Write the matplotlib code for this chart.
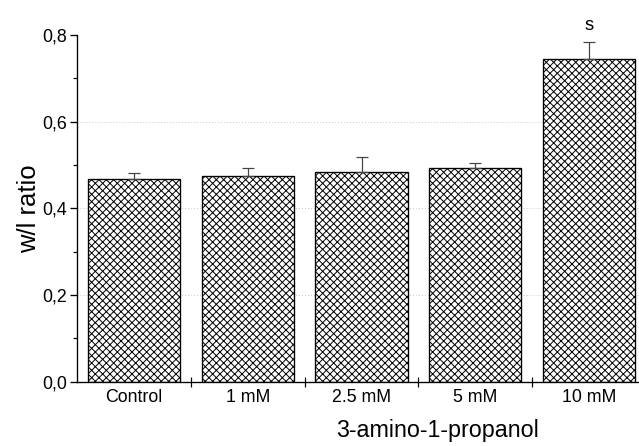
import matplotlib
matplotlib.use("Agg")
import matplotlib.pyplot as plt
from matplotlib.ticker import FixedLocator, MultipleLocator

categories = ["Control", "1 mM", "2.5 mM", "5 mM", "10 mM"]
values = [0.468, 0.475, 0.485, 0.494, 0.744]
errors = [0.013, 0.017, 0.033, 0.010, 0.039]
sig_labels = ["", "", "", "", "s"]
ytick_values = [0.0, 0.2, 0.4, 0.6, 0.8]
ytick_labels = ["0,0", "0,2", "0,4", "0,6", "0,8"]
grid_levels = [0.2, 0.4, 0.6]
xlabel = "3-amino-1-propanol"
ylabel = "w/l ratio"

DPI = 88
plt.rcParams['font.family'] = ['Liberation Sans', 'DejaVu Sans']
plt.rcParams['hatch.linewidth'] = 0.8

fig = plt.figure(figsize=(639 / DPI, 446 / DPI), dpi=DPI)
ax = fig.add_axes([77 / 639, 64.3 / 446, (646 - 77) / 639, (411 - 64.3) / 446])

x = list(range(len(categories)))
for g in grid_levels:
    ax.axhline(g, color="#b8b8b8", linestyle=(0, (1, 2.5)), linewidth=0.7, zorder=0)

ax.bar(x, values, width=0.81, color="white", edgecolor="black", hatch="xxxx",
       linewidth=1.1, zorder=2)
ax.errorbar(x, values, yerr=[[0] * len(errors), errors], fmt="none",
            ecolor="#444444", elinewidth=1.0, capsize=5.3, capthick=1.0, zorder=3)

for xi, v, e, s in zip(x, values, errors, sig_labels):
    if s:
        ax.annotate(s, (xi, v + e), xytext=(0, 7), textcoords="offset points",
                    ha="center", va="bottom", fontsize=15)

ax.set_xlim(-0.5, len(categories) - 0.5)
ax.set_ylim(0, 0.8)

ax.spines["top"].set_visible(False)
ax.spines["right"].set_visible(False)
ax.spines["left"].set_linewidth(1.1)
ax.spines["bottom"].set_linewidth(1.1)

ax.yaxis.set_major_locator(FixedLocator(ytick_values))
ax.set_yticklabels(ytick_labels)
ax.yaxis.set_minor_locator(MultipleLocator(0.1))
ax.tick_params(axis="y", which="major", direction="out", length=6, width=1.1, labelsize=14.5, pad=2)
ax.tick_params(axis="y", which="minor", direction="out", length=3, width=1.0)

ax.set_xticks([i + 0.5 for i in x[:-1]])
ax.set_xticklabels([])
ax.set_xticks(x, minor=True)
ax.set_xticklabels(categories, minor=True)
ax.tick_params(axis="x", which="major", direction="inout", length=8, width=1.0)
ax.tick_params(axis="x", which="minor", length=0, labelsize=14.5, pad=6)

ax.set_ylabel(ylabel, fontsize=21, labelpad=1)
fig.text(437 / 639, 1 - 431 / 446, xlabel, ha="center", va="center", fontsize=19)

fig.savefig("out.png", dpi=DPI)
